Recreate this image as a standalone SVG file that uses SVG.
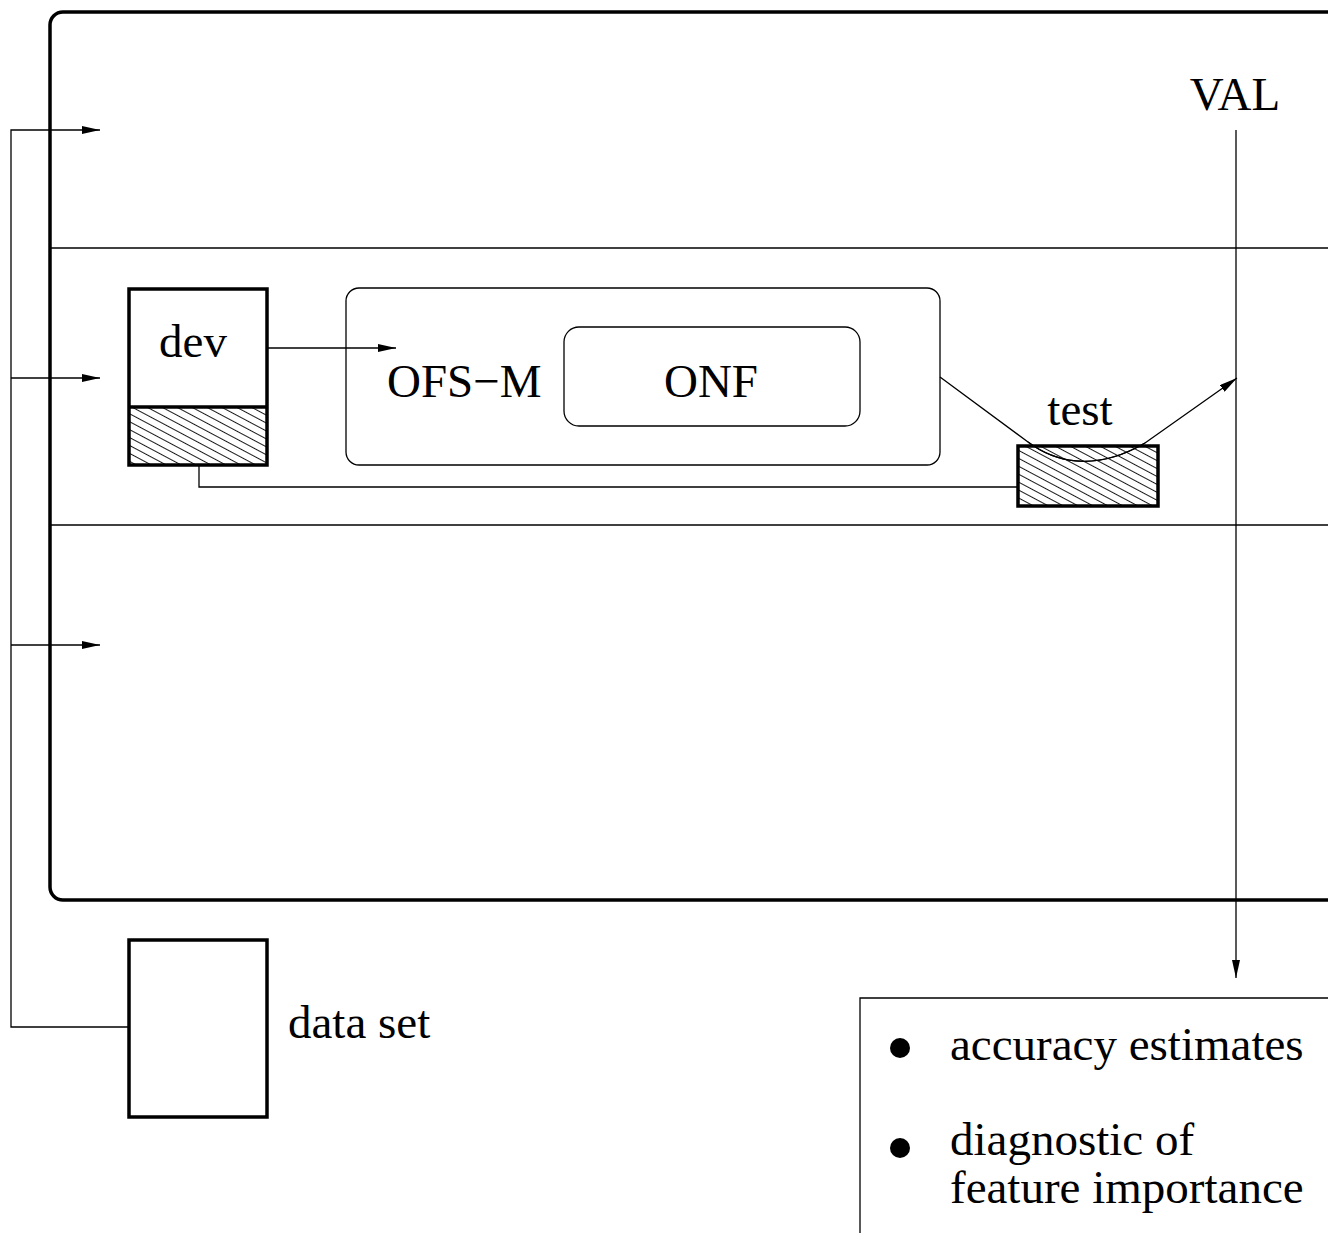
<svg xmlns="http://www.w3.org/2000/svg" width="1328" height="1233" viewBox="0 0 1328 1233">
<defs>
<style>
.txt{font-family:"Liberation Serif","Times New Roman",serif;font-size:47px;fill:#000}
.thin{fill:none;stroke:#000;stroke-width:1.3}
.thick{fill:none;stroke:#000;stroke-width:3.5}
</style>
<marker id="ah" viewBox="0 0 18 8" refX="18" refY="4" markerWidth="18" markerHeight="8" markerUnits="userSpaceOnUse" orient="auto">
<path d="M0,0 L18,4 L0,8 Z" fill="#000"/>
</marker>
<pattern id="hatch" width="20" height="7" patternUnits="userSpaceOnUse" patternTransform="rotate(28)">
<line x1="0" y1="3.5" x2="20" y2="3.5" stroke="#000" stroke-width="0.9"/>
</pattern>
</defs>
<rect width="1328" height="1233" fill="#fff"/>

<g id="frame">
<rect x="50" y="12" width="1300" height="888" rx="13" class="thick"/>
<line x1="50" y1="248" x2="1328" y2="248" class="thin"/>
<line x1="50" y1="525" x2="1328" y2="525" class="thin"/>
</g>

<g id="connectors">
<polyline points="128,1027 11,1027 11,130 100,130" class="thin" marker-end="url(#ah)"/>
<line x1="11" y1="378" x2="100" y2="378" class="thin" marker-end="url(#ah)"/>
<line x1="11" y1="645" x2="100" y2="645" class="thin" marker-end="url(#ah)"/>
<line x1="267" y1="348" x2="396" y2="348" class="thin" marker-end="url(#ah)"/>
<polyline points="199,465 199,487 1018,487" class="thin"/>
<path d="M940,377 L1028,442 C1052,460 1092,474 1145,443 L1237,378" class="thin" marker-end="url(#ah)"/>
<line x1="1236" y1="130" x2="1236" y2="978" class="thin" marker-end="url(#ah)"/>
</g>

<g id="dataset">
<rect x="129" y="940" width="138" height="177" class="thick"/>
<text x="288" y="1038" class="txt">data set</text>
</g>

<g id="dev">
<rect x="129" y="407" width="138" height="58" fill="url(#hatch)"/>
<rect x="129" y="289" width="138" height="176" class="thick"/>
<line x1="129" y1="407" x2="267" y2="407" stroke="#000" stroke-width="3.5"/>
<text x="193" y="357" class="txt" text-anchor="middle">dev</text>
</g>

<g id="ofsm">
<rect x="346" y="288" width="594" height="177" rx="13" class="thin"/>
<text x="387" y="397" class="txt">OFS−M</text>
</g>

<g id="onf">
<rect x="564" y="327" width="296" height="99" rx="15" class="thin"/>
<text x="711" y="397" class="txt" text-anchor="middle">ONF</text>
</g>

<g id="test">
<rect x="1018" y="446" width="140" height="60" fill="url(#hatch)"/>
<path d="M1028,442 C1052,460 1092,474 1145,443" class="thin"/>
<rect x="1018" y="446" width="140" height="60" class="thick"/>
<text x="1080" y="425" class="txt" text-anchor="middle">test</text>
</g>

<g id="val">
<text x="1235" y="110" class="txt" text-anchor="middle">VAL</text>
</g>

<g id="results">
<polyline points="860,1233 860,998 1328,998" class="thin"/>
<circle cx="900" cy="1048" r="10" fill="#000"/>
<circle cx="900" cy="1148" r="10" fill="#000"/>
<text x="950" y="1060" class="txt">accuracy estimates</text>
<text x="950" y="1155" class="txt">diagnostic of</text>
<text x="950" y="1203" class="txt">feature importance</text>
</g>
</svg>
